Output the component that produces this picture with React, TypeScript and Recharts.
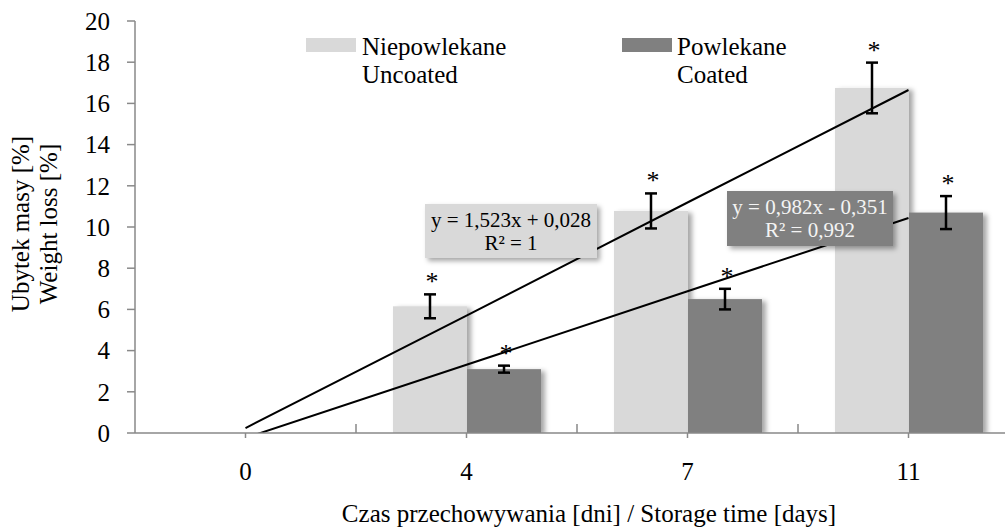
import React from 'react';
import { ComposedChart, Bar, Line, XAxis, YAxis, ErrorBar, LabelList, Legend } from 'recharts';

const SERIF = "'Liberation Serif', 'DejaVu Serif', 'Noto Serif', 'Times New Roman', Times, serif";

const categories = ['0', '4', '7', '11'];
const uncoated = [0, 6.15, 10.78, 16.75];
const uncoatedErr = [0, 0.58, 0.85, 1.23];
const coated = [0, 3.1, 6.5, 10.7];
const coatedErr = [0, 0.17, 0.5, 0.8];
// trend lines as drawn in the picture
const uncoatedTrend = [0.24, 5.7, 11.19, 16.65];
const coatedTrend = [-0.24, 3.31, 6.88, 10.44];
const yTicks = [0, 2, 4, 6, 8, 10, 12, 14, 16, 18, 20];

const data = categories.map((c, i) => ({
  day: c,
  uncoated: uncoated[i],
  uErr: uncoatedErr[i],
  coated: coated[i],
  cErr: coatedErr[i],
  uTrend: uncoatedTrend[i],
  cTrend: coatedTrend[i],
}));

const LIGHT = '#d9d9d9';
const DARK = '#808080';
const AXIS = '#898989';

const ShadowBar = (p: any) =>
  p.height > 0 ? <rect x={p.x} y={p.y} width={p.width} height={p.height} fill={p.fill} filter="url(#barShadow)" /> : null;

const starLabel = (errs: number[]) => (p: any) => {
  const { x, y, width, height, value, index } = p;
  if (!value) return null;
  const top = y - errs[index] * (height / value);
  return (
    <text x={x + width / 2 + 2} y={top - 4} textAnchor="middle" fontSize={26} style={{ fontFamily: SERIF }} fill="#000">
      *
    </text>
  );
};

const XTick = ({ x, y, payload, index }: any) => (
  <g>
    <text x={x} y={y + 42} textAnchor="middle" fontSize={25} style={{ fontFamily: SERIF }} fill="#000">
      {payload.value}
    </text>
    {index > 0 && <line x1={x - 110.5} x2={x - 110.5} y1={y - 14} y2={y - 5} stroke={AXIS} strokeWidth={1.5} />}
  </g>
);

const LegendBox = () => (
  <svg width={1025} height={100} style={{ fontFamily: SERIF }}>
    <rect x={306} y={38} width={50} height={14} fill={LIGHT} />
    <text x={362} y={55} fontSize={25}>Niepowlekane</text>
    <text x={362} y={83} fontSize={25}>Uncoated</text>
    <rect x={622} y={38} width={50} height={14} fill={DARK} />
    <text x={677} y={55} fontSize={25}>Powlekane</text>
    <text x={677} y={83} fontSize={25}>Coated</text>
  </svg>
);

// regression labels drawn over the plot, as in the original
const EquationBoxes = () => (
  <svg width={1005} height={527} style={{ position: 'absolute', left: 0, top: 0, pointerEvents: 'none', fontFamily: SERIF }}>
    <g fontSize={21}>
      <rect x={425} y={204} width={172} height={54} fill={LIGHT} filter="url(#boxShadow)" />
      <text x={511} y={227} textAnchor="middle" fill="#000">y = 1,523x + 0,028</text>
      <text x={511} y={250} textAnchor="middle" fill="#000">R² = 1</text>
      <rect x={727} y={191} width={166} height={55} fill={DARK} filter="url(#boxShadow)" />
      <text x={810} y={214} textAnchor="middle" fill="#f4f4f4">y = 0,982x - 0,351</text>
      <text x={810} y={237} textAnchor="middle" fill="#f4f4f4">R² = 0,992</text>
    </g>
  </svg>
);

const YTitle = () => (
  <g fontSize={25} fill="#000" style={{ fontFamily: SERIF }}>
    <text transform="translate(29,224) rotate(-90)" textAnchor="middle">Ubytek masy [%]</text>
    <text transform="translate(57,224) rotate(-90)" textAnchor="middle">Weight loss [%]</text>
  </g>
);

const XTitle = () => (
  <text x={589} y={522} textAnchor="middle" fontSize={25} fill="#000" style={{ fontFamily: SERIF }}>
    Czas przechowywania [dni] / Storage time [days]
  </text>
);

export default function App() {
  return (
    <div style={{ position: 'fixed', left: 0, top: 0, width: 1005, height: 527, overflow: 'hidden', background: '#fff', fontFamily: SERIF }}>
      <svg width={0} height={0} style={{ position: 'absolute' }}>
        <defs>
          <filter id="barShadow" x="-10%" y="-10%" width="130%" height="130%">
            <feDropShadow dx={4} dy={2} stdDeviation={2.5} floodColor="#000" floodOpacity={0.35} />
          </filter>
          <filter id="boxShadow" x="-10%" y="-20%" width="130%" height="150%">
            <feDropShadow dx={3} dy={3} stdDeviation={2.5} floodColor="#000" floodOpacity={0.35} />
          </filter>
        </defs>
      </svg>
      <ComposedChart width={1025} height={527} data={data} margin={{ top: 21, right: 6, bottom: 0, left: 0 }} barGap={0} barSize={74}>
        <XAxis
          dataKey="day"
          height={94}
          axisLine={{ stroke: AXIS, strokeWidth: 1.5 }}
          tickLine={{ stroke: AXIS, strokeWidth: 1.5 }}
          tickSize={5}
          tickMargin={0}
          tick={<XTick />}
          label={<XTitle />}
        />
        <YAxis
          width={135}
          domain={[0, 20]}
          ticks={yTicks}
          allowDataOverflow
          axisLine={{ stroke: AXIS, strokeWidth: 1.5 }}
          tickLine={{ stroke: AXIS, strokeWidth: 1.5 }}
          tickSize={8}
          tickMargin={17}
          tick={{ fill: '#000', fontSize: 25, style: { fontFamily: SERIF } }}
          label={<YTitle />}
        />
        <Legend layout="vertical" align="center" verticalAlign="middle" wrapperStyle={{ top: 0, left: 0, width: 1025, height: 100 }} content={<LegendBox />} />
        <Bar dataKey="uncoated" fill={LIGHT} shape={ShadowBar} isAnimationActive={false}>
          <ErrorBar dataKey="uErr" width={6} strokeWidth={2.5} stroke="#000" direction="y" />
          <LabelList dataKey="uncoated" content={starLabel(uncoatedErr)} />
        </Bar>
        <Bar dataKey="coated" fill={DARK} shape={ShadowBar} isAnimationActive={false}>
          <ErrorBar dataKey="cErr" width={6} strokeWidth={2.5} stroke="#000" direction="y" />
          <LabelList dataKey="coated" content={starLabel(coatedErr)} />
        </Bar>
        <Line dataKey="uTrend" stroke="#000" strokeWidth={2} dot={false} activeDot={false} isAnimationActive={false} />
        <Line dataKey="cTrend" stroke="#000" strokeWidth={2} dot={false} activeDot={false} isAnimationActive={false} />
      </ComposedChart>
      <EquationBoxes />
    </div>
  );
}
